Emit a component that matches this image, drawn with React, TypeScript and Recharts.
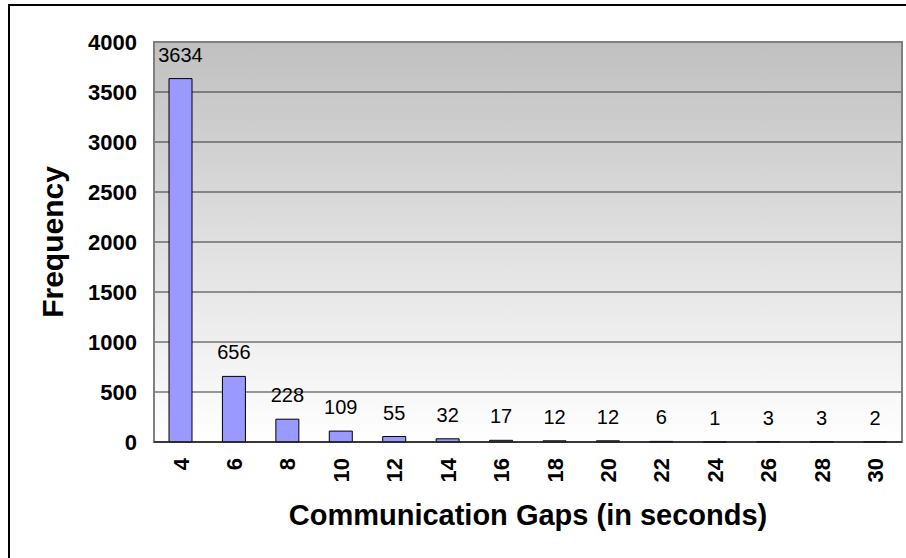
import React from 'react';
import { BarChart, Bar, XAxis, YAxis, CartesianGrid, LabelList, ReferenceArea } from 'recharts';

const categories = ['4', '6', '8', '10', '12', '14', '16', '18', '20', '22', '24', '26', '28', '30'];
const frequencies = [3634, 656, 228, 109, 55, 32, 17, 12, 12, 6, 1, 3, 3, 2];
const yTicks = [0, 500, 1000, 1500, 2000, 2500, 3000, 3500, 4000];

const data = categories.map((c, i) => ({ gap: c, frequency: frequencies[i] }));

const FONT = 'Arial, "Liberation Sans", sans-serif';

const XTick = (props: any) => {
  const { x, y, payload } = props;
  return (
    <g transform={`translate(${x},${y})`}>
      <text
        transform="rotate(-90)"
        textAnchor="end"
        dy="0.36em"
        fontFamily={FONT}
        fontWeight="bold"
        fontSize={22}
        fill="#000"
      >
        {payload.value}
      </text>
    </g>
  );
};

const YTitle = (props: any) => {
  const vb = props.viewBox || { x: 0, y: 42, width: 154, height: 400 };
  const cx = vb.x + 52;
  const cy = vb.y + vb.height / 2;
  return (
    <text
      x={cx}
      y={cy}
      transform={`rotate(-90 ${cx} ${cy})`}
      textAnchor="middle"
      dominantBaseline="central"
      fontFamily={FONT}
      fontWeight="bold"
      fontSize={30}
      fill="#000"
    >
      Frequency
    </text>
  );
};

const XTitle = (props: any) => {
  const vb = props.viewBox || { x: 154, y: 442, width: 748, height: 116 };
  return (
    <text
      x={vb.x + vb.width / 2}
      y={vb.y + 83}
      textAnchor="middle"
      fontFamily={FONT}
      fontWeight="bold"
      fontSize={29}
      fill="#000"
    >
      Communication Gaps (in seconds)
    </text>
  );
};

export default function App() {
  return (
    <div style={{ position: 'absolute', left: 0, top: 0, width: 906, height: 558, background: '#fff', overflow: 'hidden' }}>
      <div
        style={{
          position: 'absolute',
          left: 8,
          top: 4,
          width: 1000,
          height: 1000,
          borderLeft: '2px solid #000',
          borderTop: '2px solid #000',
          boxSizing: 'border-box',
        }}
      />
      <div style={{ position: 'absolute', left: 0, top: 0 }}>
        <BarChart
          width={906}
          height={558}
          data={data}
          margin={{ top: 42, right: 4, bottom: 0, left: 0 }}
          barCategoryGap="0%"
        >
          <defs>
            <linearGradient id="plotBg" x1="0" y1="0" x2="0" y2="1">
              <stop offset="0" stopColor="#c0c0c0" />
              <stop offset="1" stopColor="#ffffff" />
            </linearGradient>
          </defs>
          <CartesianGrid
            vertical={false}
            stroke="#333"
            strokeWidth={1}
            fill="url(#plotBg)"
            fillOpacity={1}
          />
          <ReferenceArea
            y1={0}
            y2={4000}
            fill="none"
            fillOpacity={0}
            stroke="#808080"
            strokeWidth={2}
            ifOverflow="visible"
          />
          <YAxis
            width={154}
            domain={[0, 4000]}
            ticks={yTicks}
            interval={0}
            tickLine={false}
            axisLine={false}
            tickSize={0}
            tickMargin={17}
            tick={{ fontFamily: FONT, fontWeight: 'bold', fontSize: 22, fill: '#000' }}
            label={<YTitle />}
          />
          <XAxis
            dataKey="gap"
            height={116}
            interval={0}
            tickLine={false}
            tickSize={0}
            tickMargin={16}
            axisLine={{ stroke: '#222', strokeWidth: 1.5 }}
            tick={<XTick />}
            label={<XTitle />}
          />
          <Bar
            dataKey="frequency"
            fill="#9999ff"
            stroke="#000"
            strokeWidth={1}
            barSize={23}
            isAnimationActive={false}
          >
            <LabelList
              dataKey="frequency"
              position="top"
              offset={17}
              fill="#000"
              fontFamily={FONT}
              fontSize={20}
            />
          </Bar>
        </BarChart>
      </div>
    </div>
  );
}
